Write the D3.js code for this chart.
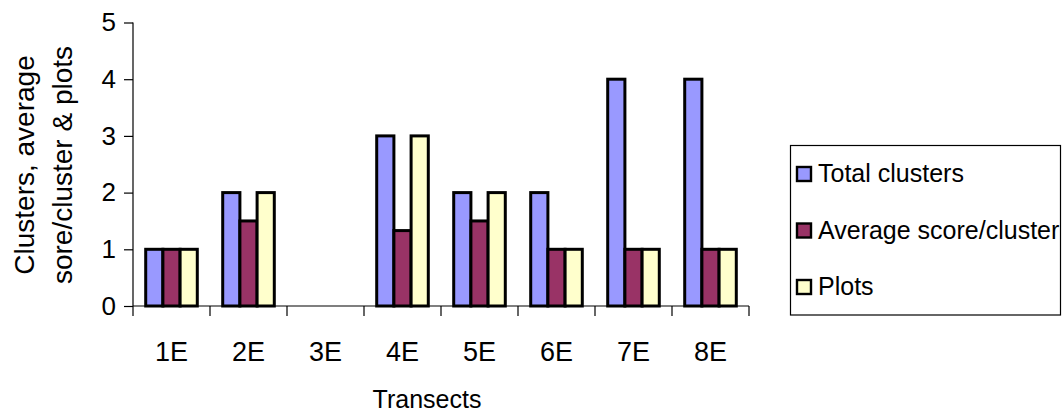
<!DOCTYPE html>
<html>
<head>
<meta charset="utf-8">
<script src="https://cdn.jsdelivr.net/npm/d3@7"></script>
<style>
  html, body { margin: 0; padding: 0; background: #fff; }
  svg { display: block; font-family: "Liberation Sans", Arial, sans-serif; }
</style>
</head>
<body>
<svg id="chart" width="1064" height="415"></svg>
<script>
// Transects along the E line
const categories = ["1E", "2E", "3E", "4E", "5E", "6E", "7E", "8E"];
const seriesNames = ["Total clusters", "Average score/cluster", "Plots"];
const totalClusters = [1, 2, 0, 3, 2, 2, 4, 4];
const averageScore = [1, 1.5, 0, 1.33, 1.5, 1, 1, 1];
const plots = [1, 2, 0, 3, 2, 1, 1, 1];
const yTicks = [0, 1, 2, 3, 4, 5];
const colors = ["#9999FF", "#993366", "#FFFFCC"];

const seriesValues = [totalClusters, averageScore, plots];

const svg = d3.select("#chart");
const plot = { left: 133, right: 749, top: 22.5, bottom: 306 };

const x0 = d3.scaleBand()
  .domain(categories)
  .range([plot.left, plot.right])
  .paddingInner(0.33)
  .paddingOuter(0.165);

const x1 = d3.scaleBand()
  .domain(seriesNames)
  .range([0, x0.bandwidth()]);

const y = d3.scaleLinear().domain([0, 5]).range([plot.bottom, plot.top]);

const color = d3.scaleOrdinal().domain(seriesNames).range(colors);

// Bars
const rows = categories.map((c, i) => ({
  category: c,
  values: seriesNames.map((s, k) => ({ series: s, value: seriesValues[k][i] }))
}));

const groups = svg.append("g").selectAll("g")
  .data(rows)
  .join("g")
  .attr("transform", d => `translate(${x0(d.category)},0)`);

groups.selectAll("rect")
  .data(d => d.values.filter(v => v.value > 0))
  .join("rect")
  .attr("x", d => x1(d.series))
  .attr("y", d => y(d.value))
  .attr("width", x1.bandwidth())
  .attr("height", d => y(0) - y(d.value))
  .attr("fill", d => color(d.series))
  .attr("stroke", "#000")
  .attr("stroke-width", 3);

// Y axis
const yAxis = d3.axisLeft(y).tickValues(yTicks).tickFormat(d3.format("d")).tickSize(9).tickPadding(8);
const gy = svg.append("g").attr("transform", `translate(${plot.left},0)`).call(yAxis);
gy.select(".domain").attr("stroke", "#000").attr("stroke-width", 1.2)
  .attr("d", `M0,${plot.top}V${plot.bottom}`);
gy.selectAll(".tick line").attr("stroke", "#000").attr("stroke-width", 1.2);
gy.selectAll(".tick text").attr("font-size", 26).attr("fill", "#000")
  .attr("font-family", "'Liberation Sans', Arial, sans-serif");

// X axis: ticks sit on category boundaries, labels at centres
const boundaries = categories.map(c => x0(c) - x0.step() * x0.paddingOuter()).concat([plot.right]);
const gx = svg.append("g");
gx.append("line")
  .attr("x1", plot.left).attr("x2", plot.right)
  .attr("y1", plot.bottom).attr("y2", plot.bottom)
  .attr("stroke", "#000").attr("stroke-width", 1.2);
gx.selectAll("line.tick")
  .data(boundaries)
  .join("line")
  .attr("class", "tick")
  .attr("x1", d => d).attr("x2", d => d)
  .attr("y1", plot.bottom).attr("y2", plot.bottom + 10)
  .attr("stroke", "#000").attr("stroke-width", 1.2);
gx.selectAll("text")
  .data(categories)
  .join("text")
  .attr("x", d => x0(d) + x0.bandwidth() / 2)
  .attr("y", 361)
  .attr("text-anchor", "middle")
  .attr("font-size", 27)
  .text(d => d);

// Axis titles
svg.append("text")
  .attr("x", 427).attr("y", 408)
  .attr("text-anchor", "middle")
  .attr("font-size", 25)
  .text("Transects");

const yTitle = svg.append("text")
  .attr("transform", "translate(0,165) rotate(-90)")
  .attr("text-anchor", "middle")
  .attr("font-size", 28);
yTitle.append("tspan").attr("x", 0).attr("y", 34).text("Clusters, average");
yTitle.append("tspan").attr("x", 0).attr("y", 72).text("sore/cluster & plots");

// Legend
const legend = svg.append("g");
legend.append("rect")
  .attr("x", 790.5).attr("y", 145.5)
  .attr("width", 270).attr("height", 169.5)
  .attr("fill", "#fff").attr("stroke", "#000").attr("stroke-width", 1.2);

const items = legend.selectAll("g.item")
  .data(seriesNames)
  .join("g")
  .attr("class", "item")
  .attr("transform", (d, i) => `translate(0,${182 + i * 56.5})`);

items.append("rect")
  .attr("x", 797).attr("y", -15)
  .attr("width", 14).attr("height", 14)
  .attr("fill", d => color(d))
  .attr("stroke", "#000").attr("stroke-width", 2.4);

items.append("text")
  .attr("x", 818).attr("y", 0)
  .attr("font-size", 25)
  .text(d => d);
</script>
</body>
</html>
